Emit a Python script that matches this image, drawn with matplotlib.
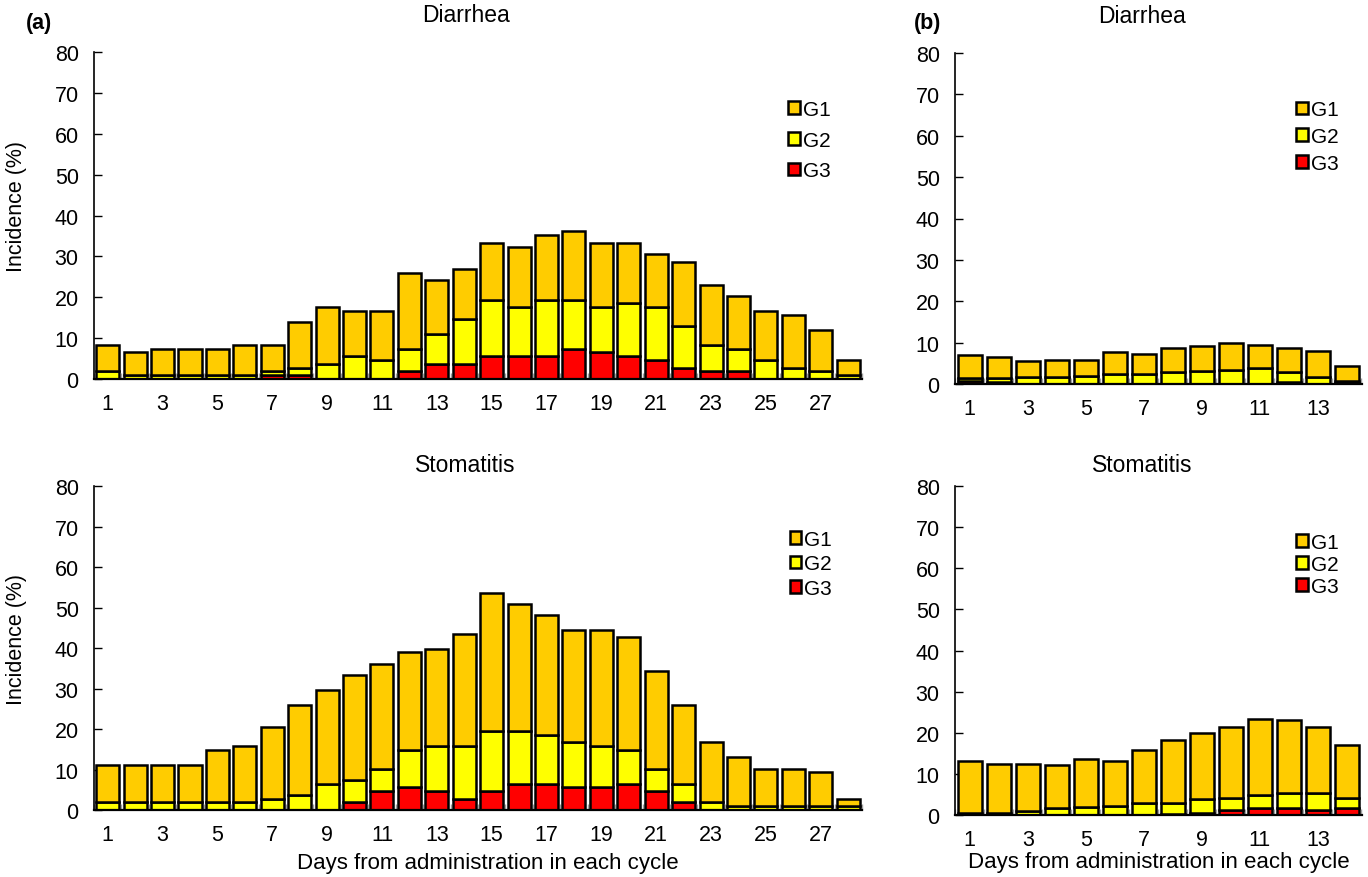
import matplotlib
matplotlib.use("Agg")
import matplotlib.pyplot as plt
import numpy as np

plt.rcParams['font.family'] = ['Liberation Sans', 'DejaVu Sans']

##-------------- data (%), cumulative heights --------------
days_a = np.arange(1, 29)
days_b = np.arange(1, 15)

# (a) Diarrhea
dia_a_any = [8.3, 6.5, 7.4, 7.4, 7.4, 8.3, 8.3, 13.9, 17.6, 16.7, 16.7, 25.9, 24.1, 26.9,
             33.3, 32.4, 35.2, 36.1, 33.3, 33.3, 30.6, 28.7, 23.1, 20.4, 16.7, 15.7, 12.0, 4.6]
dia_a_g2p = [1.9, 0.9, 0.9, 0.9, 0.9, 0.9, 1.9, 2.8, 3.7, 5.6, 4.6, 7.4, 11.1, 14.8,
             19.4, 17.6, 19.4, 19.4, 17.6, 18.5, 17.6, 13.0, 8.3, 7.4, 4.6, 2.8, 1.9, 0.9]
dia_a_g3 = [0, 0, 0, 0, 0, 0, 0.9, 0.9, 0, 0, 0, 1.9, 3.7, 3.7,
            5.6, 5.6, 5.6, 7.4, 6.5, 5.6, 4.6, 2.8, 1.9, 1.9, 0, 0, 0, 0]

# (a) Stomatitis
sto_a_any = [11.1, 11.1, 11.1, 11.1, 14.8, 15.7, 20.4, 25.9, 29.6, 33.3, 36.1, 38.9, 39.8, 43.5,
             53.7, 50.9, 48.1, 44.4, 44.4, 42.6, 34.3, 25.9, 16.7, 13.0, 10.2, 10.2, 9.3, 2.8]
sto_a_g2p = [1.9, 1.9, 1.9, 1.9, 1.9, 1.9, 2.8, 3.7, 6.5, 7.4, 10.2, 14.8, 15.7, 15.7,
             19.4, 19.4, 18.5, 16.7, 15.7, 14.8, 10.2, 6.5, 1.9, 0.9, 0.9, 0.9, 0.9, 0.9]
sto_a_g3 = [0, 0, 0, 0, 0, 0, 0, 0, 0, 1.9, 4.6, 5.6, 4.6, 2.8,
            4.6, 6.5, 6.5, 5.6, 5.6, 6.5, 4.6, 1.9, 0, 0, 0, 0, 0, 0]

# (b) Diarrhea
dia_b_any = [6.9, 6.6, 5.5, 5.9, 5.9, 7.7, 7.3, 8.8, 9.2, 9.9, 9.5, 8.8, 8.0, 4.4]
dia_b_g2p = [1.4, 1.5, 1.7, 1.7, 2.0, 2.3, 2.3, 2.8, 3.1, 3.5, 3.9, 2.9, 1.7, 0.7]
dia_b_g3 = [0.7, 0.4, 0, 0, 0, 0, 0, 0, 0, 0, 0, 0.5, 0, 0.3]

# (b) Stomatitis
sto_b_any = [13.2, 12.5, 12.5, 12.1, 13.6, 13.2, 15.9, 18.2, 20.0, 21.5, 23.4, 23.0, 21.5, 17.0]
sto_b_g2p = [0.5, 0.5, 0.9, 1.6, 2.0, 2.3, 2.8, 3.0, 3.9, 4.2, 4.9, 5.3, 5.3, 4.2]
sto_b_g3 = [0, 0, 0, 0, 0, 0, 0, 0.3, 0.4, 1.3, 1.6, 1.6, 1.3, 1.6]

grades = ['G1', 'G2', 'G3']
colors = {'G1': '#FFCC00', 'G2': '#FFFF00', 'G3': '#FF0000'}
xlab = "Days from administration in each cycle"


def panel(ax, days, any_, g2p, g3, title, title_x, title_pad, xlim, leg_xy, leg_sp,
          ylabel=False, xlabel_pad=None, xlabel_x=0.5):
    any_, g2p, g3 = np.array(any_), np.array(g2p), np.array(g3)
    w = 0.84
    kw = dict(width=w, edgecolor='black', linewidth=1.8, zorder=3)
    b3 = ax.bar(days, g3, color=colors['G3'], **kw)
    b2 = ax.bar(days, g2p - g3, bottom=g3, color=colors['G2'], **kw)
    b1 = ax.bar(days, any_ - g2p, bottom=g2p, color=colors['G1'], **kw)

    ax.set_xlim(xlim)
    ax.set_ylim(0, 80)
    ax.set_yticks(np.arange(0, 81, 10))
    ax.set_xticks(days[::2])
    ax.set_xticks(np.arange(0.5, days[-1] + 1, 1), minor=True)
    ax.tick_params(axis='y', direction='in', length=6, width=1, pad=11, labelsize=15.5)
    ax.tick_params(axis='x', which='major', length=0, pad=10, labelsize=15.5)
    ax.tick_params(axis='x', which='minor', direction='in', length=4, width=1, color='#A0A0A0')
    for s in ['top', 'right']:
        ax.spines[s].set_visible(False)
    ax.spines['left'].set_linewidth(1.2)
    ax.spines['bottom'].set_linewidth(1.6)
    ax.spines['bottom'].set_zorder(4)

    ax.set_title(title, fontsize=16.5, x=title_x, pad=title_pad)
    if ylabel:
        ax.set_ylabel("Incidence (%)", fontsize=15.5)
        ax.yaxis.set_label_coords(-0.087, 0.53)
    if xlabel_pad is not None:
        ax.set_xlabel(xlab, fontsize=16, labelpad=xlabel_pad)
        ax.xaxis.label.set_x(xlabel_x)

    ax.legend([b1, b2, b3], grades, loc='upper left', bbox_to_anchor=leg_xy,
              frameon=False, fontsize=15, handlelength=0.55, handleheight=0.55,
              handletextpad=0.15, labelspacing=leg_sp, borderpad=0, borderaxespad=0)


fig = plt.figure(figsize=(13.68, 8.78), dpi=100)

ax1 = fig.add_axes([0.0687, 0.5672, 0.5614, 0.3724])
ax2 = fig.add_axes([0.6981, 0.5615, 0.2975, 0.3770])
ax3 = fig.add_axes([0.0687, 0.0763, 0.5614, 0.3690])
ax4 = fig.add_axes([0.6981, 0.0706, 0.2975, 0.3747])

panel(ax1, days_a, dia_a_any, dia_a_g2p, dia_a_g3, "Diarrhea", 0.484, 22, (0.55, 28.5),
      (0.904, 0.853), 0.56, ylabel=True)
panel(ax2, days_b, dia_b_any, dia_b_g2p, dia_b_g3, "Diarrhea", 0.46, 22, (0.49, 14.52),
      (0.838, 0.857), 0.37)
panel(ax3, days_a, sto_a_any, sto_a_g2p, sto_a_g3, "Stomatitis", 0.484, 11, (0.55, 28.5),
      (0.906, 0.865), 0.27, ylabel=True, xlabel_pad=5, xlabel_x=0.513)
panel(ax4, days_b, sto_b_any, sto_b_g2p, sto_b_g3, "Stomatitis", 0.46, 11, (0.49, 14.52),
      (0.838, 0.858), 0.15, xlabel_pad=1)

fig.text(0.019, 0.973, "(a)", fontsize=15.5, fontweight='bold', va='center')
fig.text(0.668, 0.973, "(b)", fontsize=15.5, fontweight='bold', va='center')

plt.savefig('out.png', dpi=100)
